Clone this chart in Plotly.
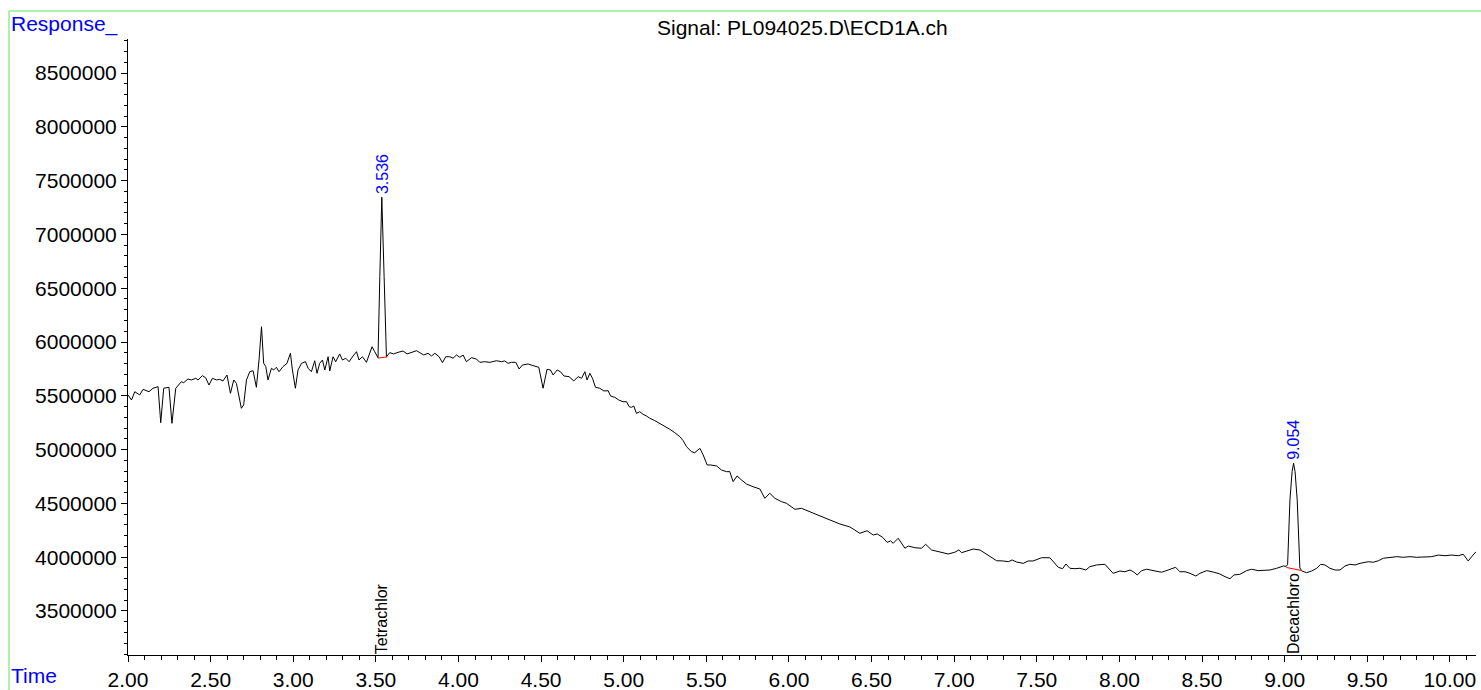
import plotly.graph_objects as go

# ---------------- data ----------------
time_min = [
    2.000, 2.021, 2.041, 2.061, 2.071, 2.091, 2.111, 2.127, 2.151, 2.182,
    2.198, 2.216, 2.248, 2.266, 2.289, 2.323, 2.337, 2.363, 2.384, 2.410,
    2.424, 2.450, 2.470, 2.490, 2.511, 2.535, 2.555, 2.575, 2.599, 2.620,
    2.640, 2.656, 2.686, 2.700, 2.717, 2.737, 2.757, 2.777, 2.793, 2.808,
    2.821, 2.834, 2.847, 2.868, 2.882, 2.898, 2.914, 2.938, 2.962, 2.983,
    2.995, 3.013, 3.029, 3.050, 3.074, 3.090, 3.110, 3.130, 3.144, 3.160,
    3.177, 3.191, 3.211, 3.221, 3.241, 3.257, 3.281, 3.298, 3.318, 3.338,
    3.362, 3.383, 3.398, 3.419, 3.443, 3.459, 3.477, 3.493, 3.513, 3.524,
    3.536, 3.550, 3.564, 3.584, 3.608, 3.634, 3.665, 3.689, 3.716, 3.746,
    3.766, 3.790, 3.816, 3.837, 3.857, 3.883, 3.903, 3.923, 3.947, 3.967,
    3.988, 4.008, 4.028, 4.048, 4.079, 4.109, 4.129, 4.159, 4.190, 4.230,
    4.260, 4.280, 4.300, 4.321, 4.347, 4.367, 4.387, 4.421, 4.452, 4.486,
    4.512, 4.536, 4.557, 4.573, 4.597, 4.617, 4.639, 4.669, 4.698, 4.724,
    4.745, 4.765, 4.778, 4.795, 4.811, 4.829, 4.855, 4.880, 4.906, 4.920,
    4.946, 4.970, 4.996, 5.017, 5.033, 5.047, 5.061, 5.077, 5.097, 5.117,
    5.138, 5.158, 5.188, 5.219, 5.249, 5.279, 5.309, 5.340, 5.360, 5.380,
    5.410, 5.430, 5.461, 5.481, 5.505, 5.525, 5.562, 5.592, 5.622, 5.642,
    5.662, 5.686, 5.713, 5.743, 5.783, 5.824, 5.854, 5.884, 5.915, 5.955,
    5.985, 6.016, 6.036, 6.076, 6.127, 6.187, 6.248, 6.308, 6.369, 6.429,
    6.473, 6.510, 6.534, 6.567, 6.594, 6.615, 6.631, 6.661, 6.682, 6.702,
    6.722, 6.762, 6.803, 6.827, 6.863, 6.913, 6.964, 7.004, 7.028, 7.045,
    7.075, 7.115, 7.156, 7.186, 7.216, 7.257, 7.297, 7.327, 7.351, 7.378,
    7.418, 7.448, 7.478, 7.529, 7.579, 7.599, 7.630, 7.656, 7.676, 7.700,
    7.731, 7.761, 7.797, 7.821, 7.862, 7.912, 7.932, 7.962, 8.003, 8.033,
    8.064, 8.084, 8.108, 8.134, 8.165, 8.205, 8.255, 8.295, 8.340, 8.366,
    8.397, 8.427, 8.463, 8.487, 8.528, 8.568, 8.608, 8.639, 8.669, 8.693,
    8.729, 8.770, 8.800, 8.840, 8.870, 8.911, 8.952, 8.992, 9.010, 9.018,
    9.032, 9.045, 9.054, 9.063, 9.076, 9.092, 9.104, 9.133, 9.163, 9.194,
    9.218, 9.244, 9.274, 9.305, 9.335, 9.365, 9.395, 9.426, 9.456, 9.486,
    9.506, 9.536, 9.567, 9.597, 9.637, 9.678, 9.718, 9.758, 9.799, 9.839,
    9.890, 9.930, 9.970, 10.011, 10.051, 10.081, 10.111, 10.132, 10.158,
]

response = [
    5508000, 5461000, 5538000, 5523000, 5508000, 5560000, 5547000, 5538000, 5570000, 5585000,
    5250000, 5570000, 5579000, 5244000, 5570000, 5631000, 5622000, 5656000, 5647000, 5663000,
    5647000, 5687000, 5668000, 5600000, 5663000, 5647000, 5653000, 5638000, 5693000, 5523000,
    5647000, 5616000, 5384000, 5415000, 5647000, 5724000, 5733000, 5579000, 5833000, 6142000,
    5802000, 5771000, 5647000, 5756000, 5740000, 5765000, 5724000, 5771000, 5802000, 5895000,
    5740000, 5570000, 5740000, 5802000, 5817000, 5756000, 5724000, 5826000, 5709000, 5802000,
    5833000, 5740000, 5863000, 5731000, 5863000, 5817000, 5889000, 5833000, 5849000, 5817000,
    5870000, 5910000, 5833000, 5863000, 5811000, 5879000, 5956000, 5910000, 5854000, 6607000,
    7345000, 6607000, 5863000, 5901000, 5889000, 5904000, 5916000, 5889000, 5901000, 5919000,
    5901000, 5879000, 5895000, 5870000, 5895000, 5863000, 5808000, 5863000, 5863000, 5849000,
    5879000, 5858000, 5879000, 5817000, 5854000, 5842000, 5811000, 5817000, 5811000, 5826000,
    5817000, 5824000, 5802000, 5811000, 5811000, 5749000, 5786000, 5796000, 5780000, 5765000,
    5570000, 5746000, 5740000, 5693000, 5740000, 5724000, 5684000, 5678000, 5638000, 5678000,
    5663000, 5724000, 5647000, 5709000, 5663000, 5579000, 5570000, 5545000, 5547000, 5498000,
    5486000, 5461000, 5445000, 5445000, 5399000, 5393000, 5405000, 5337000, 5352000, 5328000,
    5312000, 5291000, 5269000, 5244000, 5213000, 5189000, 5157000, 5120000, 5083000, 5027000,
    4981000, 4971000, 5012000, 4950000, 4857000, 4857000, 4848000, 4810000, 4795000, 4795000,
    4702000, 4755000, 4718000, 4680000, 4655000, 4634000, 4547000, 4594000, 4547000, 4516000,
    4501000, 4469000, 4445000, 4454000, 4420000, 4383000, 4346000, 4309000, 4281000, 4222000,
    4246000, 4206000, 4216000, 4185000, 4138000, 4151000, 4129000, 4176000, 4129000, 4083000,
    4104000, 4088000, 4083000, 4120000, 4067000, 4046000, 4030000, 4046000, 4067000, 4042000,
    4058000, 4076000, 4067000, 4036000, 4005000, 3967000, 3965000, 3958000, 3974000, 3955000,
    3943000, 3965000, 3965000, 3995000, 3995000, 3958000, 3906000, 3893000, 3937000, 3897000,
    3893000, 3897000, 3881000, 3912000, 3928000, 3934000, 3897000, 3850000, 3872000, 3865000,
    3881000, 3865000, 3835000, 3875000, 3888000, 3875000, 3860000, 3881000, 3906000, 3865000,
    3865000, 3850000, 3825000, 3850000, 3875000, 3862000, 3844000, 3819000, 3800000, 3835000,
    3841000, 3875000, 3888000, 3875000, 3875000, 3881000, 3897000, 3918000, 3915000, 3935000,
    4532000, 4795000, 4873000, 4795000, 4532000, 3900000, 3872000, 3856000, 3872000, 3897000,
    3934000, 3928000, 3897000, 3881000, 3881000, 3918000, 3934000, 3928000, 3943000, 3949000,
    3958000, 3953000, 3967000, 3990000, 3999000, 4005000, 3999000, 4005000, 3999000, 3999000,
    4005000, 4020000, 4014000, 4020000, 4014000, 4027000, 3965000, 4005000, 4051000,
]

peak_rt = [3.536, 9.054]
peak_apex = [7345000, 4873000]
peak_rt_labels = ["3.536", "9.054"]
peak_names = ["Tetrachlor", "Decachloro"]

# integration baselines (red)
baseline1_t = [3.513, 3.570]
baseline1_r = [5850000, 5862000]
baseline2_t = [9.010, 9.104]
baseline2_r = [3905000, 3875000]

x_range = [2.0, 10.158]
y_range = [3091000, 8816000]

title_text = "Signal: PL094025.D\\ECD1A.ch"
y_title = "Response_"
x_title = "Time"

# ---------------- layout geometry ----------------
W, H = 1481, 690
L, R, T, B = 128, 5, 39, 35
PW, PH = W - L - R, H - T - B


def pxx(p):
    return (p - L) / PW


def pxy(p):
    return (H - B - p) / PH


FONT = "Liberation Sans, Arial, Helvetica, sans-serif"
BLUE = "#0000FF"
GREEN = "#90EE90"

fig = go.Figure()
fig.add_trace(go.Scatter(x=time_min, y=response, mode="lines",
                         line=dict(color="black", width=1), hoverinfo="x+y"))
for bt, br in [(baseline1_t, baseline1_r), (baseline2_t, baseline2_r)]:
    fig.add_trace(go.Scatter(x=bt, y=br, mode="lines",
                             line=dict(color="#FF0000", width=1)))

annotations = []
for rt, ap, lab, name in zip(peak_rt, peak_apex, peak_rt_labels, peak_names):
    annotations.append(dict(x=rt, y=ap, xref="x", yref="y", text=lab,
                            textangle=-90, showarrow=False, xanchor="center",
                            yanchor="bottom", yshift=1,
                            font=dict(family=FONT, size=16, color=BLUE)))
    annotations.append(dict(x=rt, y=0, xref="x", yref="paper", text=name,
                            textangle=-90, showarrow=False, xanchor="center",
                            yanchor="bottom", yshift=-1,
                            font=dict(family=FONT, size=16, color="black")))

annotations.append(dict(x=0.5, y=pxy(27), xref="paper", yref="paper",
                        text=title_text, showarrow=False, xanchor="center",
                        yanchor="middle", font=dict(family=FONT, size=21, color="black")))
annotations.append(dict(x=pxx(9), y=pxy(24), xref="paper", yref="paper",
                        text=y_title, showarrow=False, xanchor="left",
                        yanchor="middle", font=dict(family=FONT, size=21, color=BLUE)))
annotations.append(dict(x=pxx(9), y=pxy(675), xref="paper", yref="paper",
                        text=x_title, showarrow=False, xanchor="left",
                        yanchor="middle", font=dict(family=FONT, size=21, color=BLUE)))

shapes = [
    dict(type="line", xref="paper", yref="paper", x0=pxx(9), x1=pxx(W + 2),
         y0=pxy(11), y1=pxy(11), line=dict(color=GREEN, width=1.5)),
    dict(type="line", xref="paper", yref="paper", x0=pxx(9), x1=pxx(9),
         y0=pxy(11), y1=pxy(H + 2), line=dict(color=GREEN, width=1.5)),
]

fig.update_layout(
    width=W, height=H,
    margin=dict(l=L, r=R, t=T, b=B, pad=0, autoexpand=False),
    paper_bgcolor="white", plot_bgcolor="white",
    showlegend=False,
    font=dict(family=FONT, size=21, color="black"),
    annotations=annotations,
    shapes=shapes,
    xaxis=dict(range=x_range, tickmode="linear", tick0=2.0, dtick=0.5,
               tickformat=".2f", ticks="outside", ticklen=6, tickwidth=1,
               tickcolor="black", showline=True, linecolor="black", linewidth=1,
               showgrid=False, zeroline=False, automargin=False,
               tickfont=dict(family=FONT, size=21, color="black"),
               minor=dict(tick0=2.0, dtick=0.1, ticks="outside", ticklen=4,
                          tickcolor="black", tickwidth=1, showgrid=False)),
    yaxis=dict(range=y_range, tickmode="linear", tick0=3500000, dtick=500000,
               tickformat="d", ticks="outside", ticklen=6, tickwidth=1,
               tickcolor="black", showline=True, linecolor="black", linewidth=1,
               showgrid=False, zeroline=False, automargin=False,
               tickfont=dict(family=FONT, size=21, color="black"),
               minor=dict(tick0=3500000, dtick=100000, ticks="outside", ticklen=3,
                          tickcolor="black", tickwidth=1, showgrid=False)),
)

fig.write_html("out.html", config={"displayModeBar": False},
               post_script="document.body.style.margin='0';document.body.style.overflow='hidden';")
